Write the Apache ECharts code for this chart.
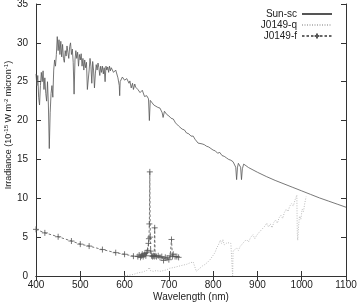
<!DOCTYPE html>
<html><head><meta charset="utf-8">
<script src="https://cdn.jsdelivr.net/npm/echarts@6/dist/echarts.min.js"></script>
<style>html,body{margin:0;padding:0;background:#fff}#c{width:357px;height:307px}</style>
</head><body><div id="c"></div>
<script>
// ---- data ----
const xTicks = [400, 500, 600, 700, 800, 900, 1000, 1100];
const yTicks = [0, 5, 10, 15, 20, 25, 30, 35];
const seriesNames = ['Sun-sc', 'J0149-q', 'J0149-f'];

const sunWave = [400,402,404,406,408,410,412,414,416,418,420,422,424,426,428,430,432,434,436,438,440,442,444,446,448,450,452,454,456,458,460,462,464,466,468,470,472,474,476,478,480,482,484,486,488,490,492,494,496,498,500,502,504,506,508,510,512,514,516,518,520,522,524,526,528,530,532,534,536,538,540,542,544,546,548,550,552,554,556,558,560,562,564,566,568,570,575,580,585,588,589,590,595,600,605,610,612,615,618,620,623,625,630,635,640,645,650,654,656,658,662,666,670,675,680,685,687,690,695,700,705,710,715,718,722,726,730,735,740,745,750,755,759,762,766,770,775,780,785,790,795,800,805,810,815,820,825,830,835,840,845,849,851,853,855,857,860,862,864,866,869,872,880,900,920,940,960,980,1000,1020,1040,1060,1080,1100];
const sunFlux = [26.0,24.5,25.8,23.0,22.0,24.5,26.2,25.0,26.4,24.0,25.5,23.5,22.5,25.0,22.0,16.4,21.0,23.5,24.5,23.0,26.5,27.8,27.0,28.5,30.8,29.0,30.4,28.5,30.2,28.2,29.8,28.0,27.5,29.0,28.3,29.6,28.8,28.0,29.5,30.0,28.5,29.2,27.5,23.4,27.8,29.0,28.0,28.8,27.0,28.5,27.8,28.6,27.0,28.0,26.5,27.8,26.8,27.5,24.0,23.8,26.5,28.0,27.0,24.8,27.6,26.5,24.2,26.0,27.2,26.5,27.4,26.8,25.8,27.0,26.2,27.0,26.0,26.8,25.0,27.0,26.5,26.9,26.2,27.0,26.4,26.8,26.2,26.5,25.5,24.5,23.2,25.0,25.6,25.2,25.4,24.8,25.1,24.2,24.8,24.0,24.7,24.3,24.0,23.6,23.9,23.1,23.2,22.8,20.0,22.6,22.4,22.0,22.1,21.7,21.6,21.0,20.4,21.2,20.8,20.6,20.3,20.2,19.7,19.9,19.3,19.2,18.9,18.8,18.4,18.3,18.0,18.0,17.6,17.8,17.1,17.3,17.0,16.9,16.7,16.6,16.4,16.2,16.1,15.8,15.9,15.5,15.4,15.2,15.0,14.9,14.7,14.6,14.0,12.4,14.0,14.5,14.4,14.0,12.4,13.8,14.4,14.2,13.95,13.35,12.8,12.3,11.85,11.4,10.95,10.5,10.05,9.65,9.25,8.85];

const qWave = [600,610,620,630,640,645,650,654,656,658,665,672,680,688,695,702,706,712,718,725,732,740,748,755,759,762,766,770,776,782,788,793,798,804,808,812,816,819,822,825,828,832,836,840,843,844,845,849,853,857,861,865,870,875,880,885,890,894,898,902,906,910,914,918,921,925,929,933,937,941,945,949,953,957,961,965,969,973,977,981,985,989,990,991,993,995,998,1001,1004,1007,1010];
const qFlux = [0.05,0.1,0.2,0.4,0.5,0.6,0.7,0.8,1.1,0.7,0.6,0.7,0.6,0.7,0.8,1.0,0.8,1.1,1.2,1.3,1.4,1.5,1.7,1.8,1.6,0.6,0.4,1.0,1.3,1.5,1.8,2.1,2.5,3.0,3.6,4.0,4.6,4.2,4.7,4.0,3.9,4.3,4.5,4.2,4.4,0.0,3.2,3.4,3.6,3.3,3.8,4.0,4.4,4.7,4.4,5.0,5.3,4.8,5.2,5.5,5.3,6.0,5.8,6.5,6.8,6.3,6.7,6.2,6.9,7.2,6.8,7.5,7.8,7.4,8.2,8.6,8.3,9.0,9.3,9.0,9.8,10.4,5.5,4.6,6.5,7.7,7.3,8.6,8.3,9.4,10.2];

const fWave = [400,420,450,480,500,520,550,580,600,620,630,633,636,638,640,642,644,646,648,650,652,654,655,656,657,658,659,661,663,665,667,668,669,672,676,680,684,688,692,696,700,703,706,708,710,714,718,722];
const fFlux = [6.0,5.55,5.05,4.5,4.1,3.85,3.4,3.0,2.8,2.55,2.5,2.7,2.4,2.6,2.8,2.5,2.7,2.9,2.6,3.0,3.3,4.2,4.8,6.7,13.4,5.0,3.2,2.6,2.5,2.6,2.5,6.2,2.6,2.5,2.6,2.4,2.5,2.0,2.4,2.3,2.1,2.6,4.7,2.5,2.8,2.5,2.5,2.4];

// ---- chart ----
const pair = (xs, ys) => xs.map((x, i) => [x, ys[i]]);
const font = '"Liberation Sans", Arial, sans-serif';
const frame = { show: true, lineStyle: { color: '#333', width: 1 } };
const ticks = { show: true, inside: true, length: 5, lineStyle: { color: '#333', width: 1 } };
const plain = v => String(v);
const chart = echarts.init(document.getElementById('c'), null, { renderer: 'canvas' });
chart.setOption({
  animation: false,
  backgroundColor: '#fff',
  grid: { left: 36, right: 11, top: 4, bottom: 31, containLabel: false, outerBoundsMode: 'none' },
  legend: {
    orient: 'vertical', right: 24, top: 9, align: 'right', padding: 0,
    itemWidth: 30, itemHeight: 6, itemGap: 1,
    textStyle: { fontFamily: font, fontSize: 10, color: '#222', lineHeight: 9 },
    data: [
      { name: seriesNames[0], itemStyle: { opacity: 0 } },
      { name: seriesNames[1], itemStyle: { opacity: 0 } },
      { name: seriesNames[2] }
    ]
  },
  xAxis: [{
    type: 'value', min: xTicks[0], max: xTicks[xTicks.length - 1], interval: 100,
    name: 'Wavelength (nm)', nameLocation: 'middle', nameGap: 16, nameMoveOverlap: false,
    nameTextStyle: { fontFamily: font, fontSize: 10, color: '#222' },
    axisLine: frame, axisTick: ticks,
    axisLabel: { fontFamily: font, fontSize: 10, color: '#222', margin: 4, formatter: plain },
    splitLine: { show: false }
  }, {
    type: 'value', position: 'top', min: xTicks[0], max: xTicks[xTicks.length - 1], interval: 100,
    axisLine: frame, axisTick: ticks, axisLabel: { show: false }, splitLine: { show: false }
  }],
  yAxis: [{
    type: 'value', min: yTicks[0], max: yTicks[yTicks.length - 1], interval: 5,
    name: 'Irradiance (10{s|-15} W m{s|-2} micron{s|-1})', nameLocation: 'middle', nameGap: 22,
    nameMoveOverlap: false,
    nameTextStyle: {
      fontFamily: font, fontSize: 9, color: '#222', padding: [0, 0, 0, 30],
      rich: { s: { fontFamily: font, fontSize: 6, color: '#222', padding: [0, 0, 5, 0] } }
    },
    axisLine: frame, axisTick: ticks,
    axisLabel: { fontFamily: font, fontSize: 10, color: '#222', margin: 8, formatter: plain },
    splitLine: { show: false }
  }, {
    type: 'value', position: 'right', min: yTicks[0], max: yTicks[yTicks.length - 1], interval: 5,
    axisLine: frame, axisTick: ticks, axisLabel: { show: false }, splitLine: { show: false }
  }],
  series: [{
    name: seriesNames[0], type: 'line', data: pair(sunWave, sunFlux),
    showSymbol: false, symbol: 'none', sampling: false,
    itemStyle: { color: '#555' },
    lineStyle: { color: '#555', width: 0.8 }
  }, {
    name: seriesNames[1], type: 'line', data: pair(qWave, qFlux),
    showSymbol: false, symbol: 'none',
    itemStyle: { color: '#bbb' },
    lineStyle: { color: '#bbb', width: 1, type: [1, 1.5] }
  }, {
    name: seriesNames[2], type: 'line', data: pair(fWave, fFlux),
    symbol: 'path://M5,0 L5,10 M0,5 L10,5', symbolSize: 6, showSymbol: true,
    itemStyle: { color: 'rgba(0,0,0,0)', borderColor: '#555', borderWidth: 0.8 },
    lineStyle: { color: '#666', width: 0.9, type: [2.5, 2] }
  }]
});
</script></body></html>
